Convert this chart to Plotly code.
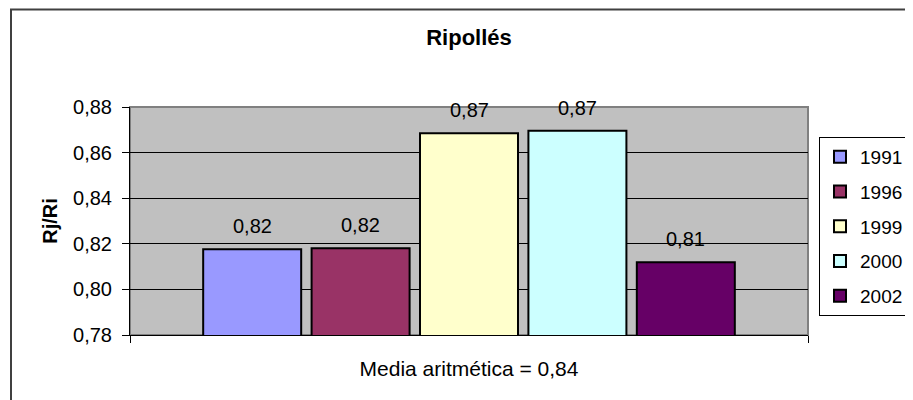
import plotly.graph_objects as go

years = ["1991", "1996", "1999", "2000", "2002"]
ratios = [0.8176, 0.8180, 0.8685, 0.8696, 0.8119]
colors = ["#9999FF", "#993366", "#FFFFCC", "#CCFFFF", "#660066"]
y_ticks = [0.78, 0.80, 0.82, 0.84, 0.86, 0.88]


def es(v):
    # spanish decimal comma
    return f"{v:.2f}".replace(".", ",")


media = sum(ratios) / len(ratios)
x_range = [-1.127, 5.127]

# page puts the plot 8px in from the corner, so margins are shifted by that
off = 8
pl, pt, pw, ph = 130 - off, 107 - off, 678, 228

fig = go.Figure()
for i, (yr, val, col) in enumerate(zip(years, ratios, colors)):
    fig.add_trace(go.Bar(x=[i], y=[val], name=yr, legendgroup=yr,
                         width=0.904,
                         marker=dict(color=col, line=dict(color="black", width=2))))
    fig.add_annotation(x=i, y=val, text=es(val), showarrow=False,
                       yanchor="middle", yshift=23,
                       font=dict(family="Liberation Sans", size=20, color="black"))

font = dict(family="Liberation Sans", size=20, color="black")

fig.update_layout(
    width=913, height=400,
    margin=dict(l=pl, r=913 - pl - pw, t=pt, b=400 - pt - ph),
    barmode="overlay",
    paper_bgcolor="white",
    plot_bgcolor="#C0C0C0",
    font=font,
    title=dict(text="<b>Ripollés</b>", x=0.5, xref="paper", xanchor="center",
               y=1 - (37 - off) / 400, yref="container", yanchor="middle",
               font=dict(family="Liberation Sans", size=22, color="black")),
    legend=dict(x=(909 - 130) / pw, xanchor="right", y=(335 - 137) / ph, yanchor="top",
                bordercolor="black", borderwidth=1, bgcolor="white",
                tracegroupgap=7, font=dict(family="Liberation Sans", size=19)),
    xaxis=dict(range=x_range, tickvals=x_range, showticklabels=False, ticks="outside",
               ticklen=7, tickcolor="black", showgrid=False, zeroline=False,
               showline=True, linecolor="black", linewidth=1,
               title=dict(text="Media aritmética = " + es(media), standoff=19,
                          font=dict(family="Liberation Sans", size=21, color="black"))),
    yaxis=dict(range=[0.78, 0.88], tickvals=y_ticks, ticktext=[es(v) for v in y_ticks],
               ticks="outside", ticklen=7, tickcolor="black", ticklabelstandoff=6,
               showgrid=True, gridcolor="black", gridwidth=1, zeroline=False,
               showline=True, linecolor="black", linewidth=1,
               title=dict(text="<b>Rj/Ri</b>", standoff=10, font=font)),
    showlegend=True,
)

# grey plot-area border (top / right)
fig.add_shape(type="rect", xref="paper", yref="paper", x0=0, x1=1, y0=0, y1=1,
              line=dict(color="#808080", width=2), layer="below")
# chart frame
fig.add_shape(type="rect", xref="paper", yref="paper",
              x0=(11 - 130) / pw, x1=(916 - 130) / pw,
              y0=(335 - 404) / ph, y1=(335 - 9.5) / ph,
              line=dict(color="#404040", width=2))

fig.write_html("out.html")
